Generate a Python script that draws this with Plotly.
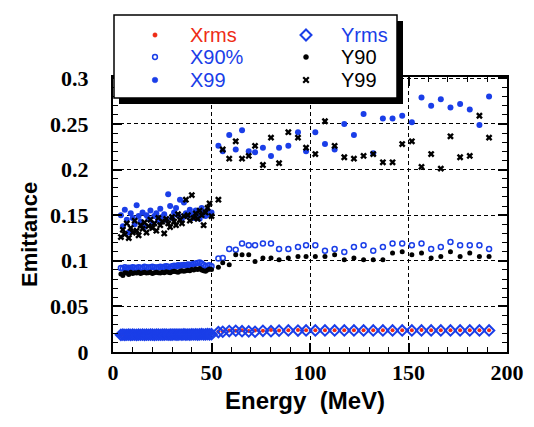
import plotly.graph_objects as go

# ---------------- data ----------------
# Beam energies (MeV): fine scan below 50 MeV, coarse scan above
energy_lo = [4, 5, 6, 7, 8, 9, 10, 11, 12, 13,
             14, 15, 16, 17, 18, 19, 20, 21, 22, 23,
             24, 25, 26, 27, 28, 29, 30, 31, 32, 33,
             34, 35, 36, 37, 38, 39, 40, 41, 42, 43,
             44, 45, 46, 47, 48, 49, 50]
energy_hi = [53.5, 55.7, 59.0, 62.3, 65.5, 68.9, 72.1, 76.1, 80.2, 84.3,
             89.0, 93.9, 98.0, 102.7, 107.6, 112.5, 117.4, 122.3, 127.2, 132.1,
             137.0, 141.9, 146.8, 151.7, 156.6, 161.5, 166.4, 171.3, 176.2, 181.1,
             186.0, 190.9]

xrms_lo = [0.0192, 0.0190, 0.0193, 0.0191, 0.0194, 0.0192, 0.0190, 0.0193, 0.0195, 0.0192,
           0.0194, 0.0191, 0.0193, 0.0195, 0.0192, 0.0194, 0.0196, 0.0193, 0.0195, 0.0194,
           0.0196, 0.0193, 0.0195, 0.0197, 0.0194, 0.0196, 0.0195, 0.0197, 0.0195, 0.0198,
           0.0196, 0.0197, 0.0199, 0.0196, 0.0198, 0.0197, 0.0199, 0.0198, 0.0200, 0.0198,
           0.0200, 0.0201, 0.0199, 0.0201, 0.0202, 0.0200, 0.0203]
xrms_hi = [0.0225, 0.0228, 0.0236, 0.0232, 0.0238, 0.0230, 0.0236, 0.0234, 0.0240, 0.0236,
           0.0238, 0.0240, 0.0238, 0.0238, 0.0238, 0.0238, 0.0238, 0.0238, 0.0238, 0.0238,
           0.0238, 0.0238, 0.0238, 0.0238, 0.0240, 0.0238, 0.0238, 0.0238, 0.0238, 0.0238,
           0.0238, 0.0238]

yrms_lo = [0.0188, 0.0190, 0.0187, 0.0189, 0.0191, 0.0188, 0.0190, 0.0189, 0.0187, 0.0190,
           0.0189, 0.0191, 0.0188, 0.0190, 0.0189, 0.0191, 0.0190, 0.0188, 0.0191, 0.0190,
           0.0189, 0.0191, 0.0190, 0.0192, 0.0189, 0.0191, 0.0190, 0.0192, 0.0191, 0.0190,
           0.0192, 0.0191, 0.0193, 0.0190, 0.0192, 0.0191, 0.0193, 0.0192, 0.0194, 0.0191,
           0.0193, 0.0195, 0.0192, 0.0194, 0.0196, 0.0193, 0.0195]
yrms_hi = [0.0218, 0.0222, 0.0230, 0.0233, 0.0228, 0.0226, 0.0222, 0.0232, 0.0228, 0.0234,
           0.0236, 0.0235, 0.0236, 0.0236, 0.0236, 0.0236, 0.0236, 0.0236, 0.0236, 0.0236,
           0.0236, 0.0236, 0.0236, 0.0236, 0.0236, 0.0236, 0.0236, 0.0236, 0.0236, 0.0236,
           0.0236, 0.0236]

x90_lo = [0.0920, 0.0915, 0.0930, 0.0920, 0.0925, 0.0920, 0.0930, 0.0925, 0.0920, 0.0930,
          0.0925, 0.0920, 0.0935, 0.0930, 0.0925, 0.0930, 0.0935, 0.0930, 0.0925, 0.0930,
          0.0935, 0.0930, 0.0935, 0.0940, 0.0935, 0.0930, 0.0940, 0.0945, 0.0940, 0.0950,
          0.0945, 0.0950, 0.0955, 0.0950, 0.0960, 0.0955, 0.0960, 0.0965, 0.0970, 0.0975,
          0.0980, 0.0970, 0.0955, 0.0940, 0.0945, 0.0950, 0.0940]
x90_hi = [0.1025, 0.1030, 0.1130, 0.1120, 0.1190, 0.1170, 0.1170, 0.1190, 0.1190, 0.1130,
          0.1130, 0.1150, 0.1170, 0.1170, 0.1110, 0.1130, 0.1096, 0.1150, 0.1170, 0.1110,
          0.1150, 0.1190, 0.1190, 0.1170, 0.1190, 0.1130, 0.1150, 0.1206, 0.1170, 0.1170,
          0.1170, 0.1130]

y90_lo = [0.0855, 0.0840, 0.0870, 0.0865, 0.0850, 0.0875, 0.0860, 0.0870, 0.0865, 0.0875,
          0.0860, 0.0870, 0.0875, 0.0865, 0.0870, 0.0875, 0.0860, 0.0870, 0.0875, 0.0870,
          0.0865, 0.0875, 0.0870, 0.0880, 0.0875, 0.0870, 0.0880, 0.0885, 0.0880, 0.0875,
          0.0885, 0.0890, 0.0885, 0.0890, 0.0895, 0.0890, 0.0905, 0.0900, 0.0910, 0.0905,
          0.0915, 0.0900, 0.0890, 0.0885, 0.0900, 0.0910, 0.0905]
y90_hi = [0.0930, 0.0979, 0.0957, 0.1067, 0.1067, 0.1067, 0.0993, 0.1030, 0.1030, 0.1012,
          0.1030, 0.1048, 0.1048, 0.1048, 0.1048, 0.1067, 0.1012, 0.1030, 0.1012, 0.1012,
          0.1012, 0.1085, 0.1100, 0.1067, 0.1085, 0.1030, 0.1048, 0.1100, 0.1048, 0.1085,
          0.1048, 0.1048]

x99_lo = [0.150, 0.138, 0.156, 0.145, 0.131, 0.152, 0.147, 0.140, 0.161, 0.149,
          0.143, 0.153, 0.137, 0.150, 0.146, 0.155, 0.141, 0.149, 0.152, 0.144,
          0.157, 0.148, 0.151, 0.145, 0.173, 0.160, 0.147, 0.153, 0.158, 0.150,
          0.167, 0.146, 0.164, 0.152, 0.149, 0.156, 0.151, 0.147, 0.155, 0.150,
          0.146, 0.158, 0.152, 0.149, 0.155, 0.151, 0.153]
x99_hi = [0.226, 0.220, 0.238, 0.222, 0.243, 0.220, 0.219, 0.224, 0.215, 0.224,
          0.226, 0.241, 0.220, 0.241, 0.228, 0.222, 0.250, 0.238, 0.261, 0.218,
          0.256, 0.256, 0.259, 0.252, 0.279, 0.270, 0.277, 0.268, 0.272, 0.266,
          0.249, 0.280]

y99_lo = [0.126, 0.134, 0.129, 0.141, 0.125, 0.136, 0.131, 0.144, 0.133, 0.128,
          0.139, 0.135, 0.142, 0.131, 0.138, 0.145, 0.136, 0.141, 0.133, 0.147,
          0.139, 0.143, 0.130, 0.146, 0.141, 0.137, 0.148, 0.143, 0.139, 0.151,
          0.145, 0.141, 0.149, 0.167, 0.150, 0.144, 0.172, 0.147, 0.152, 0.146,
          0.155, 0.150, 0.139, 0.153, 0.158, 0.163, 0.149]
y99_hi = [0.167, 0.222, 0.212, 0.231, 0.212, 0.215, 0.226, 0.205, 0.235, 0.207,
          0.241, 0.235, 0.224, 0.217, 0.253, 0.226, 0.2135, 0.212, 0.215, 0.217,
          0.208, 0.208, 0.228, 0.231, 0.203, 0.217, 0.201, 0.2365, 0.2135, 0.215,
          0.259, 0.235]

energy = energy_lo + energy_hi

RED = "#ee2c16"
BLUE = "#1a3ee8"
BLACK = "#000000"

W, H = 534, 427


def px(x):
    return x / W


def py(y):
    return 1 - y / H


series = [
    ("Xrms", xrms_lo + xrms_hi, dict(symbol="circle", size=4, color=RED)),
    ("X90%", x90_lo + x90_hi, dict(symbol="circle-open", size=5, color=BLUE, line=dict(width=1.5, color=BLUE))),
    ("X99", x99_lo + x99_hi, dict(symbol="circle", size=6, color=BLUE)),
    ("Yrms", yrms_lo + yrms_hi, dict(symbol="diamond-open", size=8, color=BLUE, line=dict(width=2, color=BLUE))),
    ("Y90", y90_lo + y90_hi, dict(symbol="circle", size=5, color=BLACK)),
    ("Y99", y99_lo + y99_hi, dict(symbol="x", size=6, color=BLACK, line=dict(width=0))),
]

fig = go.Figure()
for name, vals, mk in series:
    fig.add_trace(go.Scatter(x=energy, y=vals, mode="markers", name=name,
                             marker=mk, showlegend=False))

tickfont = dict(family="Liberation Serif", size=22, color="black", weight="bold")
grid = dict(showgrid=True, gridcolor="black", gridwidth=1, griddash="4px,3px")

fig.update_layout(
    template="none",
    width=W, height=H,
    margin=dict(l=0, r=0, t=0, b=0, autoexpand=False),
    paper_bgcolor="white", plot_bgcolor="white",
    showlegend=False,
    xaxis=dict(domain=[113 / W, 507 / W], range=[0, 200], dtick=50, tick0=0,
               automargin=False,
               ticks="inside", ticklen=9, tickwidth=1.5, tickcolor="black",
               showline=True, linewidth=2, linecolor="black", mirror="ticks",
               zeroline=False, tickfont=tickfont, ticklabelstandoff=0,
               minor=dict(dtick=10, ticks="inside", ticklen=5, tickcolor="black",
                          tickwidth=1, showgrid=False),
               **grid),
    yaxis=dict(domain=[(H - 352) / H, (H - 77) / H], range=[0, 0.3015], dtick=0.05, tick0=0,
               automargin=False,
               ticks="inside", ticklen=9, tickwidth=1.5, tickcolor="black",
               showline=True, linewidth=2, linecolor="black", mirror="ticks",
               zeroline=False, tickfont=tickfont, ticklabelstandoff=18,
               minor=dict(dtick=0.01, ticks="inside", ticklen=5, tickcolor="black",
                          tickwidth=1, showgrid=False),
               **grid),
)

# Legend panel: drop shadow, white box, marker glyphs and labels
shapes = [
    dict(type="rect", xref="paper", yref="paper", x0=px(119), x1=px(403), y0=py(104), y1=py(21),
         fillcolor="black", line=dict(width=0), layer="above"),
    dict(type="rect", xref="paper", yref="paper", x0=px(114), x1=px(397), y0=py(98), y1=py(15),
         fillcolor="white", line=dict(color="black", width=1.5), layer="above"),
]


def circ(cx, cy, r, fill, line_color, lw):
    return dict(type="circle", xref="paper", yref="paper",
                x0=px(cx - r), x1=px(cx + r), y0=py(cy + r), y1=py(cy - r),
                fillcolor=fill, line=dict(color=line_color, width=lw), layer="above")


col1, col2 = 155, 306
rows = [35, 57, 80]
shapes.append(circ(col1, rows[0], 2.2, RED, RED, 0.5))
shapes.append(circ(col1, rows[1], 2.4, "rgba(0,0,0,0)", BLUE, 1.5))
shapes.append(circ(col1, rows[2], 2.8, BLUE, BLUE, 0.5))
d = 5.5
shapes.append(dict(type="path", xref="paper", yref="paper", layer="above",
                   path=f"M {px(col2)} {py(rows[0] - d)} L {px(col2 + d)} {py(rows[0])} "
                        f"L {px(col2)} {py(rows[0] + d)} L {px(col2 - d)} {py(rows[0])} Z",
                   line=dict(color=BLUE, width=2)))
shapes.append(circ(col2, rows[1], 2.5, BLACK, BLACK, 0.5))
s = 2.8
for a, b in [((-s, -s), (s, s)), ((-s, s), (s, -s))]:
    shapes.append(dict(type="line", xref="paper", yref="paper", layer="above",
                       x0=px(col2 + a[0]), y0=py(rows[2] + a[1]),
                       x1=px(col2 + b[0]), y1=py(rows[2] + b[1]),
                       line=dict(color=BLACK, width=2.2)))

legend_font = dict(family="Liberation Sans", size=20)
labels = [("Xrms", RED, 188, rows[0]), ("X90%", BLUE, 188, rows[1]), ("X99", BLUE, 188, rows[2]),
          ("Yrms", BLUE, 339, rows[0]), ("Y90", BLACK, 339, rows[1]), ("Y99", BLACK, 339, rows[2])]
annotations = []
for txt, col, x, y in labels:
    annotations.append(dict(text=txt, xref="paper", yref="paper", x=px(x), y=py(y),
                            xanchor="left", yanchor="middle", showarrow=False,
                            font=dict(color=col, **legend_font)))

annotations.append(dict(text="Energy  (MeV)", xref="paper", yref="paper", x=px(305), y=py(400),
                        xanchor="center", yanchor="middle", showarrow=False,
                        font=dict(family="Liberation Sans", size=24, color="black", weight="bold")))
annotations.append(dict(text="Emittance", xref="paper", yref="paper", x=px(30), y=py(235),
                        xanchor="center", yanchor="middle", showarrow=False, textangle=-90,
                        font=dict(family="Liberation Sans", size=22, color="black", weight="bold")))

fig.update_layout(shapes=shapes, annotations=annotations)
fig.write_html("out.html")
